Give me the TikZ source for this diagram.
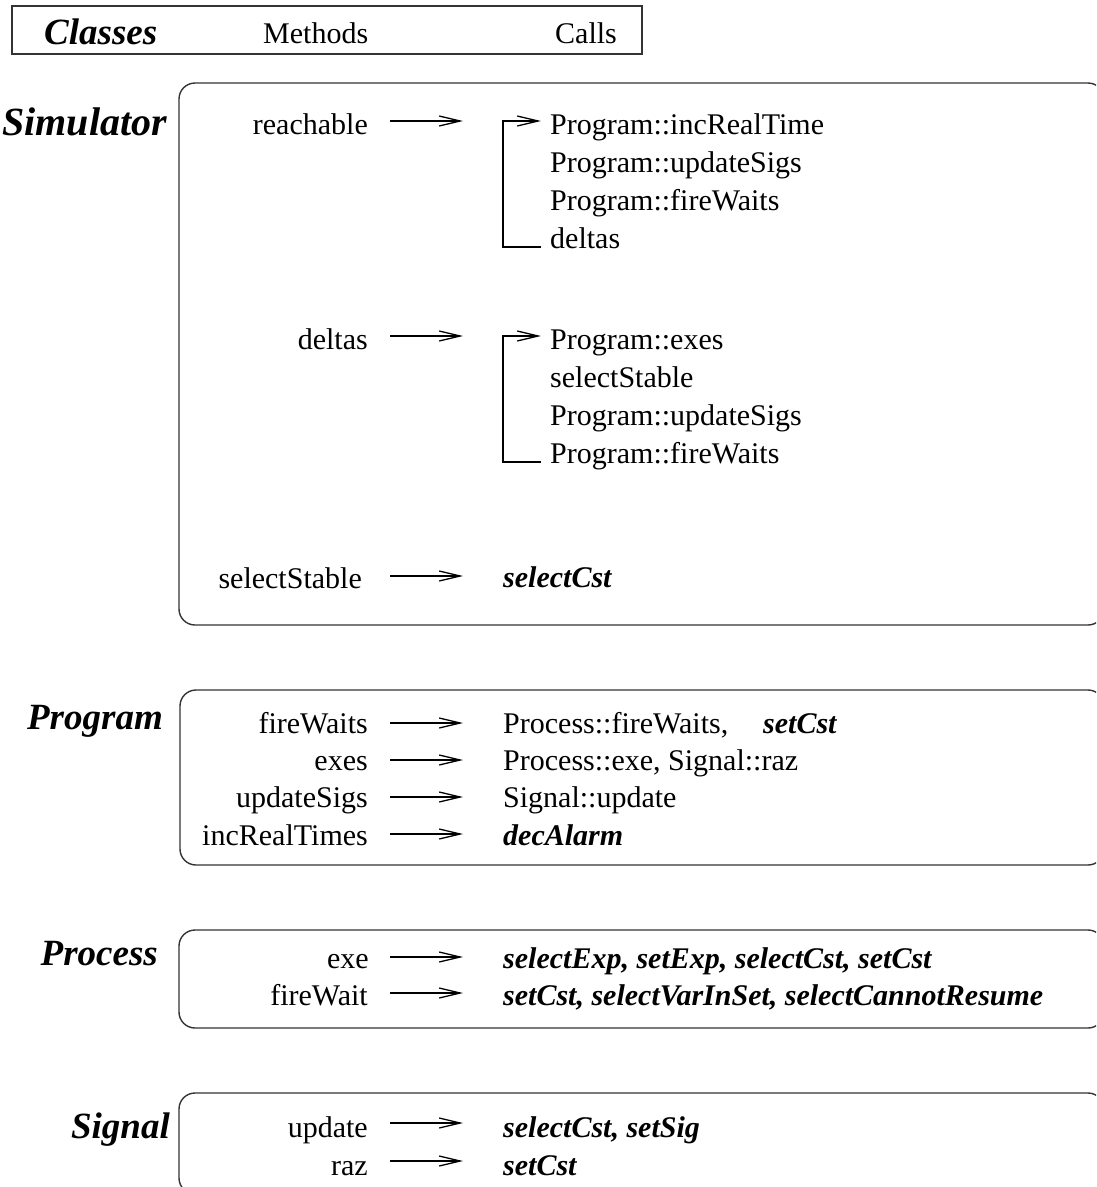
\documentclass[tikz,border=0pt]{standalone}
\usepackage{fontspec}
\setmainfont{Liberation Serif}
\usetikzlibrary{arrows.meta}
\begin{document}
\begin{tikzpicture}[x=1pt,y=-1pt,
  box/.style={draw=black!80, line width=1.4pt, rounded corners=16pt},
  hbox/.style={draw=black!80, line width=1.4pt},
  meth/.style={anchor=base east, inner sep=0pt, font=\fontsize{30}{36}\selectfont},
  call/.style={anchor=base west, inner sep=0pt, font=\fontsize{30}{36}\selectfont},
  bcall/.style={anchor=base west, inner sep=0pt, font=\fontsize{30}{36}\selectfont\bfseries\itshape},
  cls/.style={anchor=base east, inner sep=0pt, font=\fontsize{37}{44}\selectfont\bfseries\itshape},
  hd/.style={anchor=base west, inner sep=0pt, font=\fontsize{30}{36}\selectfont},
  arr/.style={line width=1.3pt, -{Straight Barb[length=21pt,width=10pt]}}]
\useasboundingbox (0,0) rectangle (1096,1187);
\clip (0,0) rectangle (1096,1187);

% header
\draw[hbox] (12,6) rectangle (642,54);
\node[hd, font=\fontsize{37}{44}\selectfont\bfseries\itshape] (hclasses) at (44,44) {Classes};
\node[hd] (hmethods) at (263,43) {Methods};
\node[hd] (hcalls) at (555,43) {Calls};

% ---------- Simulator ----------
\draw[box] (179,83) rectangle (1104,625);
\node[cls, font=\fontsize{40}{48}\selectfont\bfseries\itshape] (lsim) at (167,135) {Simulator};

\node[meth] (mreach) at (368,134) {reachable};
\coordinate (areachs) at (390,121);
\coordinate (areache) at (463,121);
\draw[arr] (areachs) -- (areache);
\node[call] (cr1) at (550,134) {Program::incRealTime};
\node[call] (cr2) at (550,172) {Program::updateSigs};
\node[call] (cr3) at (550,210) {Program::fireWaits};
\node[call] (cr4) at (550,248) {deltas};
\coordinate (b1e) at (541,247);
\coordinate (b1b) at (503,247);
\coordinate (b1t) at (503,121);
\coordinate (b1h) at (541,121);
\draw[arr] (b1e) -- (b1b) -- (b1t) -- (b1h);

\node[meth] (mdeltas) at (368,349) {deltas};
\coordinate (adels) at (390,336);
\coordinate (adele) at (463,336);
\draw[arr] (adels) -- (adele);
\node[call] (cd1) at (550,349) {Program::exes};
\node[call] (cd2) at (550,387) {selectStable};
\node[call] (cd3) at (550,425) {Program::updateSigs};
\node[call] (cd4) at (550,463) {Program::fireWaits};
\coordinate (b2e) at (541,462);
\coordinate (b2b) at (503,462);
\coordinate (b2t) at (503,336);
\coordinate (b2h) at (541,336);
\draw[arr] (b2e) -- (b2b) -- (b2t) -- (b2h);

\node[meth] (mselst) at (362,588) {selectStable};
\coordinate (aselsts) at (390,576);
\coordinate (aselste) at (463,576);
\draw[arr] (aselsts) -- (aselste);
\node[bcall] (cselst) at (503,587) {selectCst};

% ---------- Program ----------
\draw[box] (180,690) rectangle (1104,865);
\node[cls] (lprog) at (163,729) {Program};

\node[meth] (mfw) at (368,733) {fireWaits};
\coordinate (afws) at (390,723);
\coordinate (afwe) at (463,723);
\draw[arr] (afws) -- (afwe);
\node[call] (cfw) at (503,733) {Process::fireWaits,};
\node[bcall] (cfw2) at (763,733) {setCst};

\node[meth] (mexes) at (368,770) {exes};
\coordinate (aexs) at (390,760);
\coordinate (aexe) at (463,760);
\draw[arr] (aexs) -- (aexe);
\node[call] (cexes) at (503,770) {Process::exe, Signal::raz};

\node[meth] (mus) at (368,807) {updateSigs};
\coordinate (auss) at (390,797);
\coordinate (ause) at (463,797);
\draw[arr] (auss) -- (ause);
\node[call] (cus) at (503,807) {Signal::update};

\node[meth] (mirt) at (368,845) {incRealTimes};
\coordinate (airts) at (390,834);
\coordinate (airte) at (463,834);
\draw[arr] (airts) -- (airte);
\node[bcall] (cirt) at (503,845) {decAlarm};

% ---------- Process ----------
\draw[box] (179,930) rectangle (1104,1028);
\node[cls] (lproc) at (158,965) {Process};

\node[meth] (mexe) at (369,968) {exe};
\coordinate (aexes) at (390,957);
\coordinate (aexee) at (463,957);
\draw[arr] (aexes) -- (aexee);
\node[bcall] (cexe) at (503,968) {selectExp, setExp, selectCst, setCst};

\node[meth] (mfwt) at (368,1005) {fireWait};
\coordinate (afwts) at (390,993);
\coordinate (afwte) at (463,993);
\draw[arr] (afwts) -- (afwte);
\node[bcall] (cfwt) at (503,1005) {setCst, selectVarInSet, selectCannotResume};

% ---------- Signal ----------
\draw[box] (179,1093) rectangle (1104,1194);
\node[cls] (lsig) at (170,1138) {Signal};

\node[meth] (mupd) at (368,1137) {update};
\coordinate (aupds) at (390,1123);
\coordinate (aupde) at (463,1123);
\draw[arr] (aupds) -- (aupde);
\node[bcall] (cupd) at (503,1137) {selectCst, setSig};

\node[meth] (mraz) at (368,1175) {raz};
\coordinate (arazs) at (390,1161);
\coordinate (araze) at (463,1161);
\draw[arr] (arazs) -- (araze);
\node[bcall] (craz) at (503,1175) {setCst};
\end{tikzpicture}
\end{document}
